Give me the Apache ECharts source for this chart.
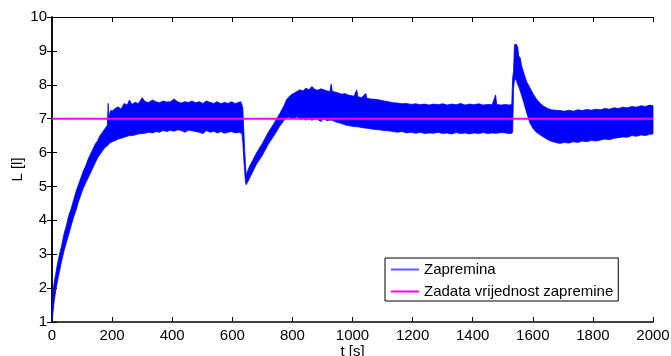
<!DOCTYPE html>
<html>
<head>
<meta charset="utf-8">
<script src="https://cdn.jsdelivr.net/npm/echarts@6/dist/echarts.min.js"></script>
<style>
    html, body {margin: 0; padding: 0; background: #fff;}
    #level-chart {width: 671px; height: 356px;}
</style>
</head>
<body>
<div id="level-chart"></div>
<script>
// time samples [s] with lower / upper edge of the noisy level band [l]
const timeSec = [
    0, 3, 7, 12, 18, 25, 32, 40, 48, 56, 64, 72, 80, 88, 96, 104, 112, 120, 128, 136,
    144, 152, 160, 168, 176, 184, 187, 189, 192, 196, 200,
    210, 220, 230, 240, 250, 258, 266, 276, 288, 300, 310, 322, 334, 346, 358, 370, 382, 394, 406, 418,
    430, 442, 454, 466, 478, 490, 502, 514, 526, 538, 550, 562, 574, 586, 598, 610, 620, 628,
    632, 635, 638, 641, 644, 646, 649, 655, 665, 680, 700, 720, 740, 758, 772, 780, 786, 795, 805, 815,
    825, 835, 845, 855, 865, 875, 885, 895, 905, 915, 925, 929, 933, 945, 955, 965, 975, 985, 995, 1005,
    1014, 1018, 1030, 1044, 1048, 1060, 1075, 1090, 1105, 1120, 1135, 1150, 1165, 1180, 1195, 1210, 1225, 1240, 1255, 1270,
    1285, 1300, 1315, 1330, 1345, 1360, 1375, 1390, 1405, 1420, 1435, 1450, 1465, 1476, 1480, 1495, 1510, 1520, 1530,
    1533, 1536, 1539, 1545, 1550, 1553, 1558, 1563, 1570, 1580, 1590, 1600, 1612, 1625, 1637, 1650, 1662, 1675, 1690, 1705,
    1720, 1735, 1750, 1765, 1780, 1795, 1810, 1825, 1840, 1855, 1870, 1885, 1900, 1915, 1930, 1945, 1960, 1975, 1990, 2000
];
const lowerEdge = [
    1.00, 1.25, 1.6, 1.9, 2.2, 2.5, 2.8, 3.1, 3.35, 3.6, 3.85, 4.1, 4.3, 4.55, 4.75, 4.95, 5.1, 5.25, 5.4, 5.55,
    5.7, 5.85, 5.95, 6.05, 6.15, 6.2, 6.22, 6.25, 6.28, 6.3, 6.32,
    6.35, 6.4, 6.42, 6.45, 6.48, 6.5, 6.5, 6.52, 6.55, 6.56, 6.57, 6.6, 6.58, 6.62, 6.6, 6.65, 6.62, 6.66, 6.63, 6.67,
    6.65, 6.6, 6.66, 6.64, 6.62, 6.6, 6.56, 6.65, 6.6, 6.63, 6.58, 6.62, 6.57, 6.6, 6.62, 6.58, 6.6, 6.58,
    6.55, 6.3, 5.85, 5.45, 5.12, 5.05, 5.1, 5.2, 5.38, 5.65, 5.92, 6.25, 6.52, 6.78, 6.95, 7.02, 7.05, 7.02, 7.0, 7.06,
    6.98, 7.0, 6.96, 7.0, 6.95, 7.0, 6.97, 6.92, 7.0, 6.94, 6.96, 6.95, 6.95, 6.9, 6.88, 6.85, 6.82, 6.8, 6.78, 6.77,
    6.76, 6.76, 6.74, 6.72, 6.72, 6.7, 6.68, 6.67, 6.65, 6.64, 6.62, 6.6, 6.62, 6.58, 6.6, 6.57, 6.6, 6.56, 6.58, 6.57,
    6.6, 6.56, 6.58, 6.55, 6.59, 6.56, 6.58, 6.55, 6.58, 6.56, 6.59, 6.56, 6.58, 6.57, 6.57, 6.59, 6.58, 6.56, 6.57,
    6.6, 7.9, 8.15, 8.15, 8.0, 7.95, 7.82, 7.68, 7.48, 7.16, 6.88, 6.72, 6.6, 6.52, 6.45, 6.38, 6.33, 6.3, 6.27, 6.3,
    6.28, 6.32, 6.3, 6.34, 6.32, 6.36, 6.34, 6.37, 6.4, 6.38, 6.42, 6.44, 6.46, 6.45, 6.5, 6.48, 6.52, 6.5, 6.54, 6.55
];
const upperEdge = [
    1.10, 1.85, 2.15, 2.4, 2.7, 3.0, 3.25, 3.6, 3.85, 4.15, 4.35, 4.6, 4.85, 5.05, 5.25, 5.45, 5.6, 5.8, 5.95, 6.1,
    6.25, 6.35, 6.5, 6.6, 6.7, 6.8, 7.45, 6.9, 7.15, 7.25, 7.22,
    7.3, 7.35, 7.28, 7.45, 7.4, 7.55, 7.42, 7.48, 7.45, 7.62, 7.5, 7.48, 7.55, 7.5, 7.47, 7.52, 7.49, 7.5, 7.58, 7.5,
    7.46, 7.5, 7.48, 7.52, 7.47, 7.5, 7.45, 7.52, 7.48, 7.45, 7.5, 7.44, 7.48, 7.45, 7.5, 7.44, 7.48, 7.5,
    7.42, 7.3, 6.7, 6.1, 5.6, 5.35, 5.4, 5.55, 5.72, 5.98, 6.27, 6.6, 6.88, 7.15, 7.38, 7.55, 7.62, 7.7, 7.75, 7.8,
    7.85, 7.82, 7.9, 7.85, 7.95, 7.86, 7.84, 7.88, 7.85, 7.82, 7.8, 8.02, 7.8, 7.78, 7.75, 7.72, 7.74, 7.7, 7.68, 7.66,
    7.85, 7.65, 7.62, 7.74, 7.6, 7.58, 7.57, 7.55, 7.52, 7.5, 7.47, 7.46, 7.44, 7.45, 7.42, 7.44, 7.41, 7.43, 7.4, 7.43,
    7.41, 7.44, 7.4, 7.43, 7.41, 7.45, 7.4, 7.43, 7.41, 7.44, 7.4, 7.42, 7.41, 7.7, 7.42, 7.4, 7.42, 7.4, 7.42,
    8.2, 8.4, 9.18, 9.2, 9.1, 8.85, 8.8, 8.55, 8.35, 8.08, 7.92, 7.75, 7.58, 7.45, 7.36, 7.3, 7.26, 7.25, 7.24, 7.22,
    7.25, 7.22, 7.26, 7.24, 7.27, 7.25, 7.28, 7.26, 7.3, 7.28, 7.32, 7.3, 7.34, 7.32, 7.36, 7.34, 7.38, 7.36, 7.4, 7.38
];
const setpointTime = [0, 2000];
const setpointLevel = [7, 7];

const FONT = "'Liberation Sans', Arial, sans-serif";
const BLUE = "#0000ff";

const chart = echarts.init(document.getElementById("level-chart"));

const bandData = timeSec.map((t, i) => [t, lowerEdge[i], upperEdge[i]]);
const setpointData = setpointTime.map((t, i) => [t, setpointLevel[i]]);

// whole band is one polygon: upper edge left->right, then lower edge right->left
const renderBand = (params, api) => {
    if (params.dataIndex !== 0) return null;
    const top = bandData.map(d => api.coord([d[0], d[2]]));
    const bottom = bandData.map(d => api.coord([d[0], d[1]])).reverse();
    return {
        type: "polygon",
        shape: {points: top.concat(bottom)},
        style: {fill: BLUE, stroke: BLUE, lineWidth: 0.8}
    };
};

const axisText = {color: "#000", fontFamily: FONT, fontSize: 15};

chart.setOption({
    animation: false,
    backgroundColor: "#fff",
    grid: {left: 52, right: 18, top: 17, bottom: 34, containLabel: false, outerBoundsMode: "none"},
    legend: {
        orient: "vertical",
        left: 385,
        top: 258,
        padding: [3, 5, 1, 6],
        itemGap: 5,
        itemWidth: 28,
        itemHeight: 2,
        borderColor: "#000",
        borderWidth: 1,
        backgroundColor: "#fff",
        textStyle: {color: "#000", fontFamily: FONT, fontSize: 15, lineHeight: 17},
        data: [
            {name: "Zapremina", icon: "rect", itemStyle: {color: "#5a5aff"}},
            {name: "Zadata vrijednost zapremine", icon: "rect", itemStyle: {color: "#ff00ff"}}
        ]
    },
    xAxis: [
        {
            type: "value", min: 0, max: 2000, interval: 200,
            name: "t [s]", nameLocation: "middle", nameGap: 22, nameMoveOverlap: false,
            nameTextStyle: axisText,
            axisLine: {lineStyle: {color: "#000", width: 1.5}},
            axisTick: {inside: true, length: 5, lineStyle: {color: "#000"}},
            axisLabel: Object.assign({margin: 6, formatter: (v) => String(v)}, axisText),
            splitLine: {show: false}
        },
        {
            type: "value", min: 0, max: 2000, interval: 200, position: "top",
            axisLine: {lineStyle: {color: "#000", width: 1}},
            axisTick: {inside: true, length: 5, lineStyle: {color: "#000"}},
            axisLabel: {show: false},
            splitLine: {show: false}
        }
    ],
    yAxis: [
        {
            type: "value", min: 1, max: 10, interval: 1,
            name: "L [l]", nameLocation: "middle", nameGap: 27, nameMoveOverlap: false,
            nameTextStyle: axisText,
            axisLine: {show: true, lineStyle: {color: "#000", width: 1.5}},
            axisTick: {show: true, inside: true, length: 5, lineStyle: {color: "#000"}},
            axisLabel: Object.assign({margin: 5}, axisText),
            splitLine: {show: false}
        },
        {
            type: "value", min: 1, max: 10, interval: 1, position: "right",
            axisLine: {show: true, lineStyle: {color: "#000", width: 1.5}},
            axisTick: {show: true, inside: true, length: 5, lineStyle: {color: "#000"}},
            axisLabel: {show: false},
            splitLine: {show: false}
        }
    ],
    series: [
        {
            name: "Zapremina",
            type: "custom",
            color: BLUE,
            renderItem: renderBand,
            encode: {x: 0, y: [1, 2]},
            data: bandData,
            z: 2
        },
        {
            name: "Zadata vrijednost zapremine",
            type: "line",
            data: setpointData,
            showSymbol: false,
            symbol: "none",
            color: "#ff00ff",
            lineStyle: {color: "#ff00ff", width: 2},
            z: 3
        }
    ]
});
</script>
</body>
</html>
